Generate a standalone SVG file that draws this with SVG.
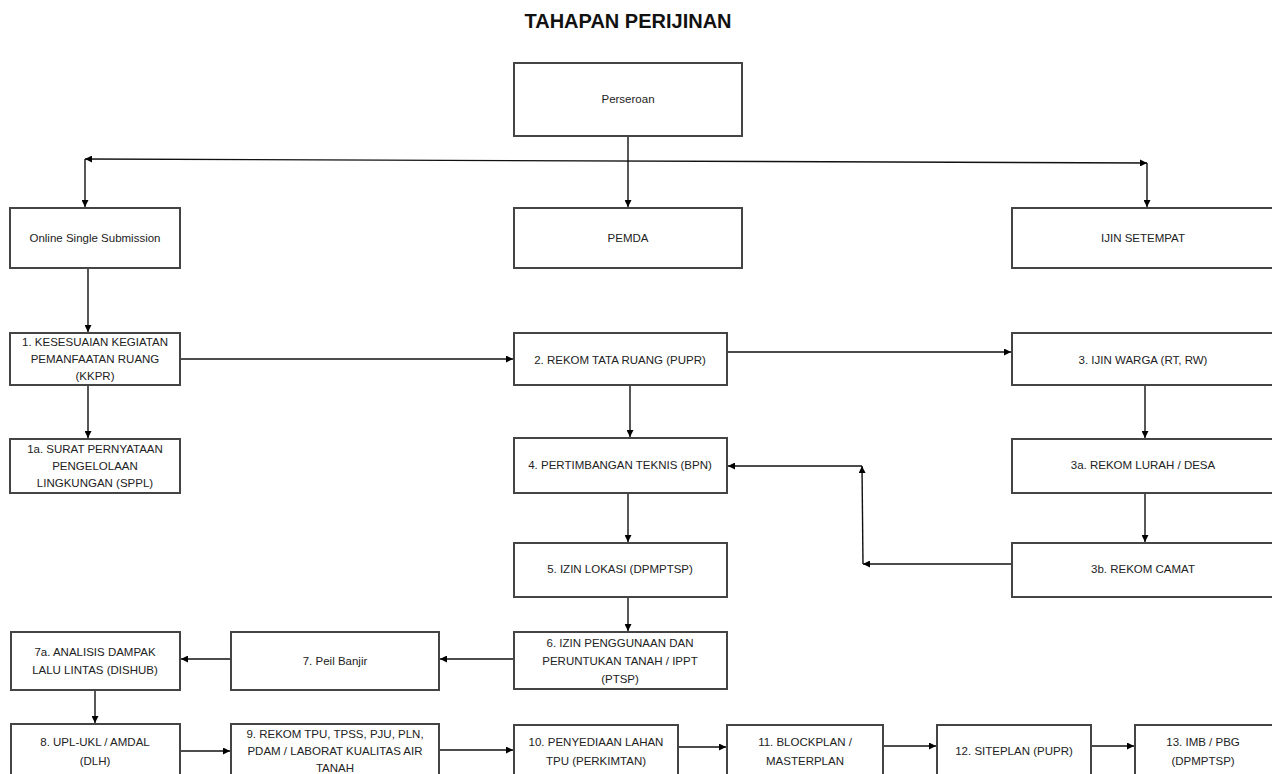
<svg xmlns="http://www.w3.org/2000/svg" width="1272" height="774" viewBox="0 0 1272 774">
<defs>
<marker id="ah" viewBox="0 0 10 10" refX="10" refY="5" markerWidth="7" markerHeight="7" markerUnits="userSpaceOnUse" orient="auto">
<path d="M0,0 L10,5 L0,10 z" fill="#000"/>
</marker>
<marker id="ahs" viewBox="0 0 10 10" refX="0" refY="5" markerWidth="7" markerHeight="7" markerUnits="userSpaceOnUse" orient="auto">
<path d="M10,0 L0,5 L10,10 z" fill="#000"/>
</marker>
</defs>
<style>
rect.box{fill:#fff;stroke:#444;stroke-width:2}
text{font-family:"Liberation Sans",Arial,sans-serif;font-size:11.5px;fill:#222;text-anchor:middle}
text.title{font-size:20px;font-weight:bold;fill:#111}
.conn line{stroke:#111;stroke-width:1.4;fill:none;marker-end:url(#ah)}
</style>
<rect width="1272" height="774" fill="#fff"/>
<text class="title" x="628" y="28">TAHAPAN PERIJINAN</text>

<g class="conn">
<line x1="628" y1="136" x2="628" y2="207"/>
<line x1="85" y1="159" x2="1147" y2="163" style="marker-start:url(#ahs)"/>
<line x1="85" y1="159" x2="85" y2="207"/>
<line x1="1147" y1="163" x2="1147" y2="207"/>
<line x1="88" y1="268" x2="88" y2="332"/>
<line x1="88" y1="385" x2="88" y2="438"/>
<line x1="180" y1="359" x2="513" y2="359"/>
<line x1="727" y1="352" x2="1011" y2="352"/>
<line x1="630" y1="385" x2="630" y2="437"/>
<line x1="1145" y1="385" x2="1145" y2="438"/>
<line x1="1145" y1="493" x2="1145" y2="542"/>
<line x1="1012" y1="564" x2="863" y2="564"/>
<line x1="863" y1="564" x2="862" y2="466"/>
<line x1="862" y1="466" x2="728" y2="466"/>
<line x1="628" y1="493" x2="628" y2="542"/>
<line x1="628" y1="597" x2="628" y2="631"/>
<line x1="514" y1="659" x2="440" y2="659"/>
<line x1="232" y1="659" x2="181" y2="659"/>
<line x1="95" y1="690" x2="95" y2="723"/>
<line x1="180" y1="751" x2="230" y2="751"/>
<line x1="439" y1="750" x2="513" y2="750"/>
<line x1="678" y1="747" x2="726" y2="747"/>
<line x1="883" y1="746" x2="936" y2="746"/>
<line x1="1091" y1="746" x2="1134" y2="746"/>
</g>

<g id="perseroan"><rect class="box" x="514" y="63" width="228" height="73"/><text x="628" y="103">Perseroan</text></g>
<g id="oss"><rect class="box" x="10" y="208" width="170" height="60"/><text x="95" y="242">Online Single Submission</text></g>
<g id="pemda"><rect class="box" x="514" y="208" width="228" height="60"/><text x="628" y="242">PEMDA</text></g>
<g id="ijin-setempat"><rect class="box" x="1012" y="208" width="262" height="60"/><text x="1143" y="242">IJIN SETEMPAT</text></g>

<g id="n1"><rect class="box" x="10" y="333" width="170" height="52"/><text x="95" y="346">1. KESESUAIAN KEGIATAN</text><text x="95" y="363">PEMANFAATAN RUANG</text><text x="95" y="380">(KKPR)</text></g>
<g id="n1a"><rect class="box" x="10" y="439" width="170" height="54"/><text x="95" y="453">1a. SURAT PERNYATAAN</text><text x="95" y="470">PENGELOLAAN</text><text x="95" y="487">LINGKUNGAN (SPPL)</text></g>
<g id="n2"><rect class="box" x="514" y="333" width="213" height="52"/><text x="620" y="364">2. REKOM TATA RUANG (PUPR)</text></g>
<g id="n3"><rect class="box" x="1012" y="333" width="262" height="52"/><text x="1143" y="364">3. IJIN WARGA (RT, RW)</text></g>
<g id="n3a"><rect class="box" x="1012" y="439" width="262" height="54"/><text x="1143" y="469">3a. REKOM LURAH / DESA</text></g>
<g id="n4"><rect class="box" x="514" y="438" width="213" height="55"/><text x="620" y="469">4. PERTIMBANGAN TEKNIS (BPN)</text></g>
<g id="n3b"><rect class="box" x="1012" y="543" width="262" height="54"/><text x="1143" y="573">3b. REKOM CAMAT</text></g>
<g id="n5"><rect class="box" x="514" y="543" width="213" height="54"/><text x="620" y="573">5. IZIN LOKASI (DPMPTSP)</text></g>
<g id="n6"><rect class="box" x="514" y="632" width="213" height="57"/><text x="620" y="647">6. IZIN PENGGUNAAN DAN</text><text x="620" y="665">PERUNTUKAN TANAH / IPPT</text><text x="620" y="683">(PTSP)</text></g>
<g id="n7"><rect class="box" x="231" y="632" width="208" height="58"/><text x="335" y="665">7. Peil Banjir</text></g>
<g id="n7a"><rect class="box" x="11" y="632" width="169" height="58"/><text x="95" y="656">7a. ANALISIS DAMPAK</text><text x="95" y="674">LALU LINTAS (DISHUB)</text></g>
<g id="n8"><rect class="box" x="11" y="724" width="169" height="70"/><text x="95" y="746">8. UPL-UKL / AMDAL</text><text x="95" y="765">(DLH)</text></g>
<g id="n9"><rect class="box" x="231" y="724" width="208" height="70"/><text x="335" y="738">9. REKOM TPU, TPSS, PJU, PLN,</text><text x="335" y="755">PDAM / LABORAT KUALITAS AIR</text><text x="335" y="772">TANAH</text></g>
<g id="n10"><rect class="box" x="514" y="725" width="164" height="70"/><text x="596" y="746">10. PENYEDIAAN LAHAN</text><text x="596" y="765">TPU (PERKIMTAN)</text></g>
<g id="n11"><rect class="box" x="727" y="725" width="156" height="70"/><text x="805" y="746">11. BLOCKPLAN /</text><text x="805" y="765">MASTERPLAN</text></g>
<g id="n12"><rect class="box" x="937" y="725" width="154" height="70"/><text x="1014" y="755">12. SITEPLAN (PUPR)</text></g>
<g id="n13"><rect class="box" x="1135" y="725" width="139" height="70"/><text x="1203" y="746">13. IMB / PBG</text><text x="1203" y="765">(DPMPTSP)</text></g>
</svg>
